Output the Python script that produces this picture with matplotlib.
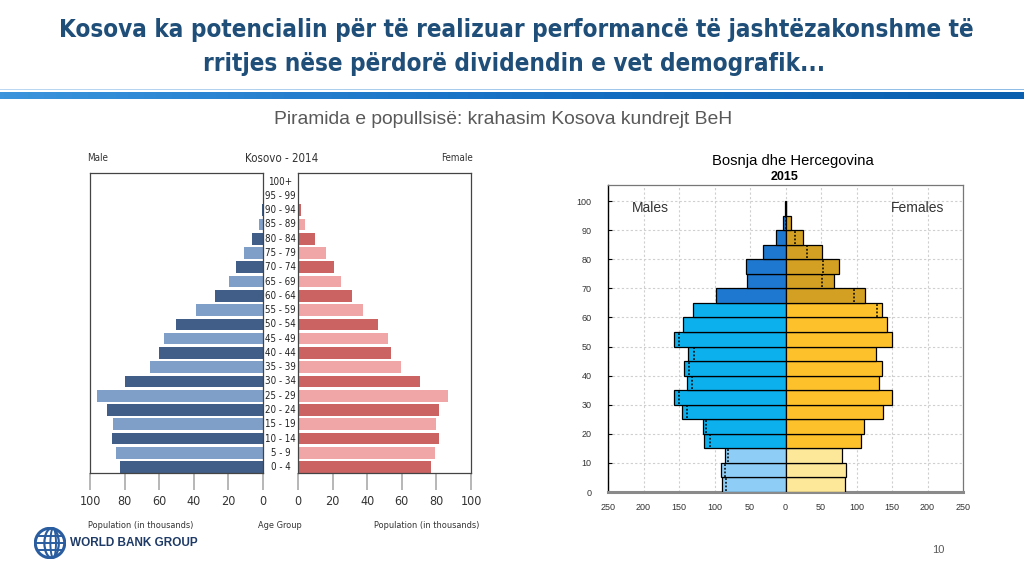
import numpy as np
import matplotlib
matplotlib.use("Agg")
import matplotlib.pyplot as plt
from matplotlib import font_manager
from matplotlib.font_manager import FontProperties
from matplotlib.patches import Circle, Ellipse
from matplotlib.colors import LinearSegmentedColormap

# ---------------- data ----------------
kos_age_labels = ["0 - 4", "5 - 9", "10 - 14", "15 - 19", "20 - 24", "25 - 29", "30 - 34",
                  "35 - 39", "40 - 44", "45 - 49", "50 - 54", "55 - 59", "60 - 64", "65 - 69",
                  "70 - 74", "75 - 79", "80 - 84", "85 - 89", "90 - 94", "95 - 99", "100+"]
kos_male = [82.7, 85, 87.5, 86.7, 90.4, 96.2, 79.6, 65.4, 60.2, 57.5, 50.4, 38.5, 27.7,
            19.4, 15.4, 11.2, 6.3, 2.5, 0.8, 0.2, 0.1]
kos_female = [76.7, 79, 81.7, 79.8, 81.7, 86.9, 70.7, 59.3, 53.8, 52.2, 46.4, 37.4, 31,
              24.9, 20.8, 16, 10, 4.2, 1.5, 0.3, 0.2]
kos_ticks = [0, 20, 40, 60, 80, 100]

bih_age_start = [0, 5, 10, 15, 20, 25, 30, 35, 40, 45, 50, 55, 60, 65, 70, 75, 80, 85, 90, 95]
bih_male = [89.3, 90.7, 85, 114.2, 116.5, 145.7, 157.4, 138.6, 142.9, 136.7, 157, 143.8,
            130.2, 98.2, 53.6, 55, 31.5, 12.7, 3.3, 1.0]
bih_female = [84.4, 85.4, 79.7, 107, 110.4, 137.7, 149.5, 132, 136.3, 127.8, 149.5, 143.5,
              135.4, 112, 68, 76, 51, 25, 7.5, 0.5]
bih_male_ref = [83.6, 85, 80.4, 106.7, 111.4, 138.6, 150.4, 131, 135.8, 128.3, 150.4,
                np.nan, np.nan, np.nan, np.nan, np.nan, np.nan, np.nan, np.nan, np.nan]
bih_female_ref = [np.nan, np.nan, np.nan, np.nan, np.nan, np.nan, np.nan, np.nan, np.nan,
                  np.nan, np.nan, np.nan, 129, 97, 52, 53, 30.7, 13, 1.4, np.nan]
bih_xticks = [-250, -200, -150, -100, -50, 0, 50, 100, 150, 200, 250]
bih_yticks = [0, 10, 20, 30, 40, 50, 60, 70, 80, 90, 100]

# ---------------- fonts ----------------
plt.rcParams['font.family'] = ['Liberation Sans', 'DejaVu Sans']


def pick_narrow():
    cands = [("Liberation Sans Narrow", "normal"), ("DejaVu Sans", "condensed"),
             ("Noto Sans", "condensed"), ("Open Sans", "condensed"), ("Roboto", "condensed")]
    for fam, st in cands:
        try:
            p = font_manager.findfont(FontProperties(family=fam, stretch=st),
                                      fallback_to_default=False)
            low = p.lower()
            if "narrow" in low or "condensed" in low or "semicond" in low:
                return fam, st
        except Exception:
            pass
    return None, None

nfam, nstretch = pick_narrow()
if nfam is None:
    nfam, nstretch = "Liberation Sans", "normal"
NARROW = dict(family=nfam, fontstretch=nstretch)

W, H = 1024, 576
fig = plt.figure(figsize=(10.24, 5.76), dpi=100)
fig.patch.set_facecolor("white")
renderer = fig.canvas.get_renderer()


def fx(px):
    return px / W


def fy(py):
    return 1 - py / H


def fit(t, target_px):
    """Scale a text's font size so its rendered width is target_px."""
    for _ in range(3):
        w = t.get_window_extent(renderer=renderer).width
        if w > 0:
            t.set_fontsize(t.get_fontsize() * target_px / w)
    return t.get_fontsize()

# ---------------- header ----------------
title_col = "#1f4e79"
t1 = fig.text(fx(516), fy(30), "Kosova ka potencialin për të realizuar performancë të jashtëzakonshme të",
              ha="center", va="center", fontsize=17, fontweight="bold", color=title_col, **NARROW)
fs = fit(t1, 912)
fig.text(fx(514), fy(64), "rritjes nëse përdorë dividendin e vet demografik...",
         ha="center", va="center", fontsize=fs, fontweight="bold", color=title_col, **NARROW)

grad = np.linspace(0, 1, 256).reshape(1, -1)
band = fig.add_axes([0, fy(99), 1, (99 - 92) / H])
band.imshow(grad, aspect="auto", cmap=LinearSegmentedColormap.from_list("b", ["#3b94dc", "#1670c4", "#0a5fae"]),
            extent=[0, 1, 0, 1])
band.axis("off")
thin = fig.add_axes([0, fy(90), 1, 1.5 / H])
thin.imshow(grad, aspect="auto", cmap=LinearSegmentedColormap.from_list("c", ["#bcd8f2", "#8fbde6"]),
            extent=[0, 1, 0, 1])
thin.axis("off")

st = fig.text(fx(503), fy(120), "Piramida e popullsisë: krahasim Kosova kundrejt BeH",
              ha="center", va="center", fontsize=13.5, color="#595959")
fit(st, 455)

# ---------------- Kosovo pyramid ----------------
male_dark, male_light = "#405e88", "#7f9fc9"
fem_dark, fem_light = "#cc6363", "#f0a6a6"
y = np.arange(len(kos_age_labels))
male_cols = [male_dark if i % 2 == 0 else male_light for i in y]
fem_cols = [fem_dark if i % 2 == 0 else fem_light for i in y]

ax_l = fig.add_axes([fx(90), fy(473), fx(263 - 90), (473 - 173) / H])
ax_r = fig.add_axes([fx(298), fy(473), fx(471 - 298), (473 - 173) / H])
ax_l.barh(y, kos_male, height=0.82, color=male_cols)
ax_r.barh(y, kos_female, height=0.82, color=fem_cols)
ax_l.set_xlim(100, 0)
ax_r.set_xlim(0, 100)
for ax in (ax_l, ax_r):
    ax.patch.set_visible(False)
    ax.set_ylim(-0.41, 20.6)
    ax.set_yticks([])
    ax.set_xticks(kos_ticks)
    ax.set_xticklabels([str(t) for t in kos_ticks], fontsize=9, color="#333333", **NARROW)
    ax.tick_params(axis="x", length=12, width=1.2, color="#aaaaaa", pad=4)
    for s in ax.spines.values():
        s.set_color("#444444")
        s.set_linewidth(0.9)

probe = fig.text(0, 0, "95 - 99", fontsize=9, **NARROW)
age_fs = fit(probe, 31)
probe.remove()
for i, lab in enumerate(kos_age_labels):
    ax_l.annotate(lab, xy=(1, i), xycoords=("axes fraction", "data"), xytext=(17.5, 0),
                  textcoords="offset pixels", ha="center", va="center",
                  fontsize=age_fs, color="#222222", annotation_clip=False, **NARROW)

small = dict(ha="center", va="center", color="#333333", **NARROW)
a = fig.text(fx(98), fy(158), "Male", fontsize=7.5, **small)
fit(a, 21)
k = fig.text(fx(282), fy(158), "Kosovo - 2014", fontsize=10.5, **small)
fit(k, 73)
f = fig.text(fx(457), fy(158), "Female", fontsize=7.5, **small)
fit(f, 32)
p1 = fig.text(fx(141), fy(525), "Population (in thousands)", fontsize=7.5, **small)
pfs = fit(p1, 105)
fig.text(fx(280), fy(525), "Age Group", fontsize=pfs, **small)
fig.text(fx(427), fy(525), "Population (in thousands)", fontsize=pfs, **small)

# ---------------- Bosnia pyramid ----------------
ax_b = fig.add_axes([fx(608), fy(492), fx(963 - 608), (492 - 185) / H])
m_cols = []
f_cols = []
for a_ in bih_age_start:
    if a_ < 15:
        m_cols.append("#8ecdf6"); f_cols.append("#fde89a")
    elif a_ < 65:
        m_cols.append("#0cb0ec"); f_cols.append("#fdc12b")
    else:
        m_cols.append("#1f78d0"); f_cols.append("#d3a024")
ax_b.barh(bih_age_start, [-v for v in bih_male], height=5, align="edge", color=m_cols,
          edgecolor="black", linewidth=0.9, zorder=3)
ax_b.barh(bih_age_start, bih_female, height=5, align="edge", color=f_cols,
          edgecolor="black", linewidth=0.9, zorder=3)
for a_, mr, fr in zip(bih_age_start, bih_male_ref, bih_female_ref):
    if not np.isnan(mr):
        ax_b.vlines(-mr, a_ + 0.3, a_ + 4.7, colors="black", linestyles=(0, (1.2, 1.2)), lw=1.1, zorder=4)
    if not np.isnan(fr):
        ax_b.vlines(fr, a_ + 0.3, a_ + 4.7, colors="black", linestyles=(0, (1.2, 1.2)), lw=1.1, zorder=4)
ax_b.set_xlim(-250, 250)
ax_b.set_ylim(0, 105.5)
ax_b.set_xticks(bih_xticks)
ax_b.set_xticklabels([str(abs(t)) for t in bih_xticks], fontsize=6.5, color="#333333")
ax_b.set_yticks(bih_yticks)
ax_b.set_yticklabels([str(t) for t in bih_yticks], fontsize=6.5, color="#333333")
ax_b.tick_params(axis="y", direction="in", length=3, pad=12)
ax_b.tick_params(axis="x", length=0, pad=8)
ax_b.grid(True, color="#cfcfcf", linestyle=(0, (2, 2)), linewidth=0.8, zorder=0)
ax_b.set_axisbelow(True)
ax_b.spines["left"].set_color("black")
ax_b.spines["left"].set_linewidth(1.0)
for s in ("top", "right"):
    ax_b.spines[s].set_color("#777777")
    ax_b.spines[s].set_linewidth(0.9)
ax_b.spines["bottom"].set_color("#8a8a8a")
ax_b.spines["bottom"].set_linewidth(2.2)
ax_b.text(-217, 97.5, "Males", fontsize=10, color="#333333", va="center", ha="left")
ax_b.text(223, 97.5, "Females", fontsize=10, color="#333333", va="center", ha="right")
bt = fig.text(fx(793), fy(161), "Bosnja dhe Hercegovina", ha="center", va="center", fontsize=10.5, color="black")
fit(bt, 162)
fig.text(fx(785), fy(177), "2015", ha="center", va="center", fontsize=9, fontweight="bold", color="black")

# ---------------- footer ----------------
fig.text(fx(938), fy(550), "10", ha="center", va="center", fontsize=8, color="#595959")
logo = fig.add_axes([fx(34), fy(559), fx(32), 32 / H])
logo.set_xlim(-1, 1); logo.set_ylim(-1, 1); logo.set_aspect("equal"); logo.axis("off")
gcol = "#2a5d9f"
logo.add_patch(Circle((0, 0), 0.92, fill=False, lw=2.2, color=gcol))
logo.add_patch(Ellipse((0.1, 0), 0.9, 1.84, fill=False, lw=1.6, color=gcol))
logo.add_patch(Ellipse((0.2, 0), 0.35, 1.84, fill=False, lw=1.4, color=gcol))
for yy in (-0.45, 0.0, 0.45):
    half = np.sqrt(0.92 ** 2 - yy ** 2)
    logo.plot([-half, half], [yy, yy], color=gcol, lw=1.4)
wb = fig.text(fx(70), fy(543), "WORLD BANK GROUP", ha="left", va="center", fontsize=9,
              fontweight="bold", color="#1e3a66")
fit(wb, 127)

fig.savefig("out.png", dpi=100)
